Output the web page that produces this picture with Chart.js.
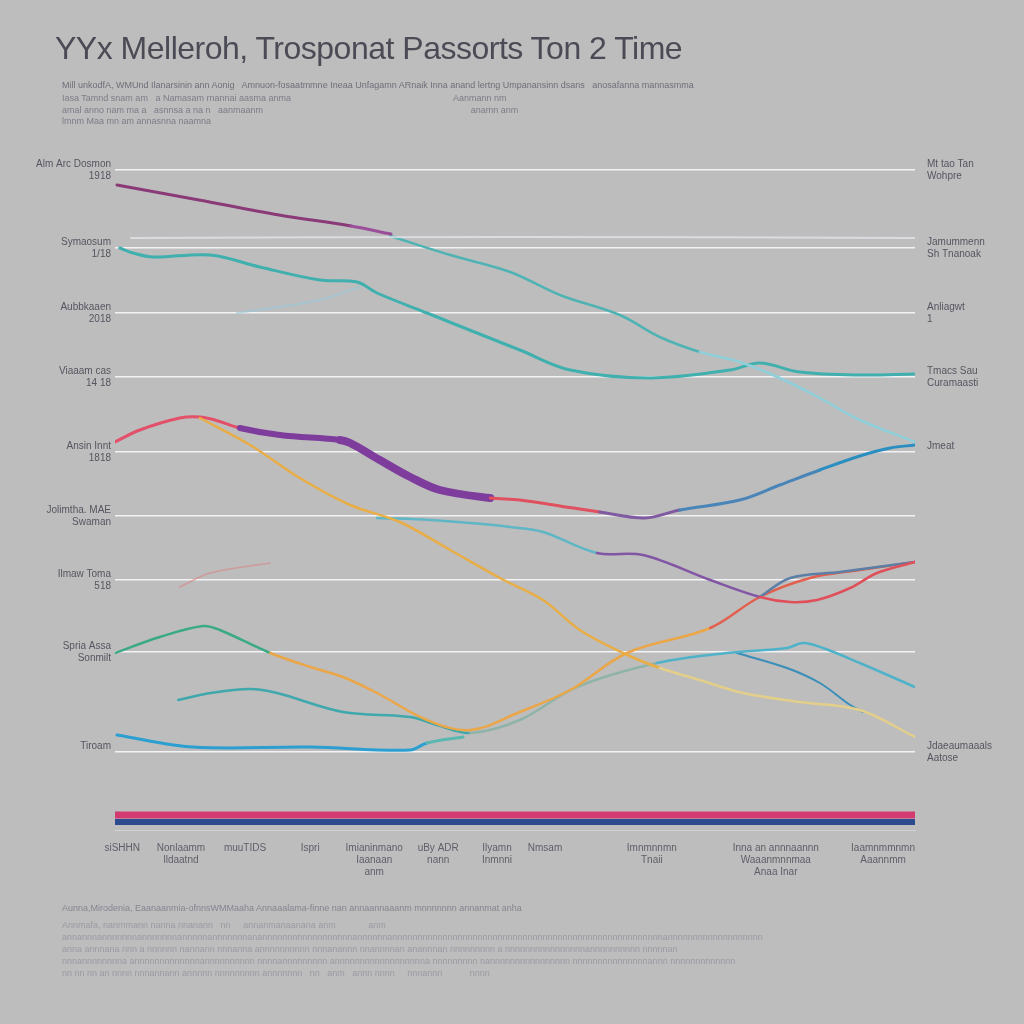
<!DOCTYPE html>
<html>
<head>
<meta charset="utf-8">
<script src="https://cdn.jsdelivr.net/npm/chart.js@4.4.1/dist/chart.umd.min.js"></script>
<style>
  html, body { margin: 0; padding: 0; background: #bdbdbe; }
  #wrap { position: relative; width: 1024px; height: 1024px; overflow: hidden; }
  canvas { position: absolute; left: 0; top: 0; }
  .title { position: absolute; left: 55px; top: 30px; font: 32px "Liberation Sans", Arial, sans-serif; color: #4b4b55; letter-spacing: -0.5px; }
  .sub { position: absolute; left: 62px; font: 9px "Liberation Sans Narrow", "Liberation Sans", sans-serif; color: #7c7c86; white-space: nowrap; }
  .foot { position: absolute; left: 62px; font: 9px "Liberation Sans Narrow", "Liberation Sans", sans-serif; color: #9a9aa2; white-space: nowrap; }
</style>
</head>
<body>
<div id="wrap">
  <canvas id="chart" width="1024" height="1024"></canvas>
  <div class="title">YYx Melleroh, Trosponat Passorts Ton 2 Time</div>
  <div class="sub" style="top:80px;color:#6e6e78">Mill unkodfA, WMUnd Ilanarsinin ann Aonig &nbsp; Amnuon-fosaatmmne Ineaa Unfagamn ARnaik Inna anand lertng Umpanansinn dsans &nbsp; anosafanna mannasmma</div>
  <div class="sub" style="top:93px">Iasa Tamnd snam am &nbsp; a Namasam rnannai aasma anma &nbsp; &nbsp; &nbsp; &nbsp; &nbsp; &nbsp; &nbsp; &nbsp; &nbsp; &nbsp; &nbsp; &nbsp; &nbsp; &nbsp; &nbsp; &nbsp; &nbsp; &nbsp; &nbsp; &nbsp; &nbsp; &nbsp; &nbsp; &nbsp; &nbsp; &nbsp; &nbsp; &nbsp; &nbsp; &nbsp; &nbsp; &nbsp; Aanmann nm</div>
  <div class="sub" style="top:105px">amal anno nam ma a &nbsp; asnnsa a na n &nbsp; aanmaanm &nbsp; &nbsp; &nbsp; &nbsp; &nbsp; &nbsp; &nbsp; &nbsp; &nbsp; &nbsp; &nbsp; &nbsp; &nbsp; &nbsp; &nbsp; &nbsp; &nbsp; &nbsp; &nbsp; &nbsp; &nbsp; &nbsp; &nbsp; &nbsp; &nbsp; &nbsp; &nbsp; &nbsp; &nbsp; &nbsp; &nbsp; &nbsp; &nbsp; &nbsp; &nbsp; &nbsp; &nbsp; &nbsp; &nbsp; &nbsp; &nbsp; anamn anm</div>
  <div class="sub" style="top:116px">lmnm Maa mn am annasnna naamna</div>
  <div class="foot" style="top:903px;color:#858590">Aunna,Mirodenia, Eaanaanmia-ofnnsWMMaaha Annaaalama-finne nan annaannaaanm mnnnnnnn annanmat anha</div>
  <div class="foot" style="top:920px">Annmafa, nanmmann nanna nnanann &nbsp; nn &nbsp; &nbsp; annanmanaanana anm &nbsp; &nbsp; &nbsp; &nbsp; &nbsp; &nbsp; anm</div>
  <div class="foot" style="top:932px">annannnannnnnnnannnnnnnannnnnannnnnnnanannnnnnnnnnnnnnnnnnannnnnnannnnnnnnnnnnnnnnnnnnnnnnnnnnnnnnnnnnnnnnnnnnnnnnnnnnnnannnnnnnnnnnnnnnnnnn</div>
  <div class="foot" style="top:944px">anna annnana nnn a nnnnnn nannann nnnanna annnnnnnnnn nnnanannn nnannnnan anannnan nnnnnnnnn a nnnnnnnnnnnnnnnnannnnnnnnnn nnnnnan</div>
  <div class="foot" style="top:956px">nnnannnnnnnna annnnnnnnnnnnnannnnnnnnnn nnnnannnnnnnnn annnnnnnnnnnnnnnnnna nnnnnnnnn nannnnnnnnnnnnnnnn nnnnnnnnnnnnnnnannn nnnnnnnnnnnnn</div>
  <div class="foot" style="top:968px">nn nn nn an nnnn nnnannann annnnn nnnnnnnnn annnnnnn &nbsp; nn &nbsp; anm &nbsp; annn nnnn &nbsp; &nbsp; nnnannn &nbsp; &nbsp; &nbsp; &nbsp; &nbsp; nnnn</div>
</div>
<script>
const gridVals = [66, 58.2, 51.7, 45.3, 37.8, 31.4, 25, 17.8, 7.8];
const leftLabels = [
  ['Alm Arc Dosmon', '1918'], ['Symaosum', '1/18'], ['Aubbkaaen', '2018'],
  ['Viaaam cas', '14 18'], ['Ansin Innt', '1818'], ['Jolimtha. MAE', 'Swaman'],
  ['Ilmaw Toma', '518'], ['Spria Assa', 'Sonmilt'], ['Tiroam', '']
];
const rightLabels = [
  ['Mt tao Tan', 'Wohpre'], ['Jamummenn', 'Sh Tnanoak'], ['Anliagwt', '1'],
  ['Tmacs Sau', 'Curamaasti'], ['Jmeat', ''], '', '', '', ['Jdaeaumaaals', 'Aatose']
];
const xTickVals = [0.9, 8.25, 16.25, 24.4, 32.4, 40.4, 47.75, 53.75, 67.1, 82.6, 96];
const xLabels = [
  'siSHHN', ['Nonlaamm', 'lldaatnd'], 'muuTIDS', 'Ispri', ['Imianinmano', 'Iaanaan', 'anm'],
  ['uBy ADR', 'nann'], ['Ilyamn', 'Inmnni'], 'Nmsam', ['Imnmnnmn', 'Tnaii'],
  ['Inna an annnaannn', 'Waaanmnnmaa', 'Anaa Inar'], ['Iaamnmmnmn', 'Aaannmm']
];

// series
const purpleX = [0.25, 10.5, 20.5, 29.5, 34.5];
const purpleY = [64.5, 63, 61.5, 60.4, 59.6];

const paleTealX = [34.4, 41.9, 49.4, 55.6, 63.1, 68.1, 73.1, 78.1, 83.1, 88.1, 93.1, 100];
const paleTealY = [59.4, 57.5, 55.8, 53.5, 51.5, 49.3, 47.8, 46.8, 45.2, 43.2, 41, 38.8];

const tealX = [0.6, 2.25, 4.75, 11.9, 18.1, 25.6, 30.25, 32.75, 39, 45.25, 50.6, 56.9, 66.9, 76.9, 80.6, 85.6, 93.1, 100];
const tealY = [58.2, 57.7, 57.3, 57.5, 56.3, 55, 54.8, 53.7, 51.7, 49.7, 48, 46, 45.2, 46, 46.7, 45.8, 45.5, 45.6];

const midX = [0, 3.1, 8.1, 10.6, 12.5, 15.6, 20.6, 28.1, 29.4, 33.1, 36.9, 40.6, 46.9, 50.6, 55.6, 60.6, 66.25, 70.6, 78.1, 83.1, 88.1, 93.1, 96.9, 100];
const midY = [38.8, 40, 41.2, 41.3, 41, 40.2, 39.5, 39, 38.7, 37, 35.3, 34, 33.2, 33, 32.4, 31.8, 31.2, 32, 33, 34.5, 36, 37.4, 38.2, 38.5];

const yellowX = [10.6, 16.9, 23.1, 29.4, 35.6, 41.9, 48.1, 53.5, 58.1, 63.5, 68.1, 73.1, 78.5, 85.6, 93.1, 100];
const yellowY = [41.2, 38.5, 35.2, 32.5, 30.8, 28, 25.2, 23, 20, 17.7, 16.2, 15, 13.7, 12.8, 12, 9.3];

const lowTealX = [32.75, 39.4, 44.4, 49.4, 53.5, 60.25, 66, 74.4, 80.6, 84.4, 87.75, 91.9, 95.25, 100];
const lowTealY = [31.2, 31, 30.7, 30.3, 29.8, 27.7, 27.5, 25, 23.3, 22.8, 23, 24.2, 25.7, 26.8];

const riseX = [80.6, 84.4, 90.6, 100];
const riseY = [23.3, 25.2, 25.8, 26.8];

const greenX = [0, 5.6, 11, 13.1, 19.4, 24.4, 28.5, 32.75, 39, 44.4, 50.6, 56.9, 64, 74.4, 80.6, 86.9, 93.1, 100];
const greenY = [17.7, 19.3, 20.4, 20, 17.7, 16.3, 15.3, 13.7, 11, 10, 11.8, 14, 17.7, 20.2, 23.3, 25.2, 26, 26.8];

const grayTealX = [7.9, 11.9, 16.9, 20.25, 28.5, 36.9, 40.25, 44.4, 50.6, 57.75, 67.75, 76.5, 84, 86, 88.5, 93.1, 100];
const grayTealY = [13, 13.7, 14.1, 13.7, 11.8, 11.3, 10.5, 9.7, 11, 14.3, 16.7, 17.7, 18.2, 18.7, 18.2, 16.7, 14.3];

const blueBranchX = [77.75, 84, 88.1, 91.9, 93.5];
const blueBranchY = [17.7, 16.2, 14.7, 12.5, 11.8];

const blueLowX = [0.25, 9.75, 24.4, 36.9, 39, 43.5];
const blueLowY = [9.5, 8.3, 8.3, 8, 8.7, 9.3];

const ghostBlueX = [15.25, 25.6, 30.6];
const ghostBlueY = [51.7, 53, 54.3];
const ghostRedX = [8.1, 11.9, 19.4];
const ghostRedY = [24.3, 25.7, 26.7];
const ghostBandX = [2, 50, 100];
const ghostBandY = [59.2, 59.3, 59.2];

const barX = [0, 100];
const magentaBarY = [1.5, 1.5];
const navyBarY = [0.8, 0.8];

function pts(xs, ys) {
  return xs.map((x, i) => ({ x: x, y: ys[i] }));
}

// colour by x position of segment start
function pick(breaks, colors) {
  return ctx => {
    const x = ctx.p0.parsed.x;
    let i = 0;
    while (i < breaks.length && x >= breaks[i]) i++;
    return colors[i];
  };
}

function line(data, color, width, extra) {
  return Object.assign({
    data: data,
    borderColor: color,
    borderWidth: width,
    pointRadius: 0,
    fill: false,
    tension: 0.35,
    borderCapStyle: 'round'
  }, extra || {});
}

const datasets = [
  line(pts(ghostBandX, ghostBandY), 'rgba(225,228,232,0.8)', 2),
  line(pts(ghostBlueX, ghostBlueY), 'rgba(150,200,215,0.6)', 2),
  line(pts(ghostRedX, ghostRedY), 'rgba(215,140,140,0.7)', 1.5),
  line(pts(purpleX, purpleY), '#8a3a7e', 3, {
    segment: { borderColor: pick([25], ['#8b3a78', '#9b4e9a']) }
  }),
  line(pts(paleTealX, paleTealY), '#6fc3c8', 2.5, {
    segment: { borderColor: pick([70], ['#4fb3b3', '#8fd0da']) }
  }),
  line(pts(tealX, tealY), '#3fb0ae', 3),
  line(pts(yellowX, yellowY), '#e8b04a', 2.5, {
    segment: { borderColor: pick([65], ['#e9ad45', '#e3cf8a']) }
  }),
  line(pts(lowTealX, lowTealY), '#5ab4bf', 2.5, {
    segment: { borderColor: pick([58, 78], ['#5fb6c4', '#8255a5', '#e0505a']) }
  }),
  line(pts(riseX, riseY), '#5d7fa6', 2.5),
  line(pts(greenX, greenY), '#3daa8a', 2.5, {
    segment: { borderColor: pick([19, 70], ['#3aaa86', '#eba648', '#e3604e']) }
  }),
  line(pts(grayTealX, grayTealY), '#4ab0b0', 2.5, {
    segment: { borderColor: pick([44, 60], ['#3fa8ac', '#8fb3a8', '#4fb2c8']) }
  }),
  line(pts(blueBranchX, blueBranchY), '#3a8fb8', 2),
  line(pts(blueLowX, blueLowY), '#2aa0cf', 3, {
    segment: { borderColor: pick([37], ['#2a9fd0', '#5ab8b0']) }
  }),
  line(pts(midX, midY), '#e04a64', 3, {
    segment: {
      borderColor: pick([14, 46, 60, 70, 88], ['#e2506a', '#7e3d9c', '#e0505e', '#7f5aa0', '#4a85b8', '#2a8fc0']),
      borderWidth: ctx => {
        const x = ctx.p0.parsed.x;
        return (x >= 28 && x < 44) ? 8 : (x >= 14 && x < 46 ? 6 : 3);
      }
    }
  }),
  line(pts(barX, magentaBarY), '#d43a72', 7, { tension: 0, borderCapStyle: 'butt' }),
  line(pts(barX, navyBarY), '#2c4a8e', 6, { tension: 0, borderCapStyle: 'butt' })
];

const tickFont = { family: '"Liberation Sans Narrow", "Liberation Sans", sans-serif', size: 10 };

new Chart(document.getElementById('chart'), {
  type: 'line',
  data: { datasets: datasets },
  options: {
    responsive: false,
    animation: false,
    layout: { padding: { top: 160, bottom: 0, left: 0, right: 0 } },
    plugins: { legend: { display: false }, tooltip: { enabled: false } },
    scales: {
      x: {
        type: 'linear', min: 0, max: 100,
        grid: { display: false },
        border: { color: '#d4d4d8', width: 1 },
        afterBuildTicks: s => { s.ticks = xTickVals.map(v => ({ value: v })); },
        afterFit: s => { s.height = 194; },
        ticks: {
          autoSkip: false, maxRotation: 0, padding: 4,
          color: '#5e5e68', font: tickFont,
          callback: (v, i) => xLabels[i]
        }
      },
      y: {
        position: 'left', min: 0, max: 67,
        afterBuildTicks: s => { s.ticks = gridVals.map(v => ({ value: v })); },
        afterFit: s => { s.width = 115; },
        grid: { color: '#f3f3f5', lineWidth: 1.5, drawTicks: false },
        border: { display: false },
        ticks: {
          padding: 4, color: '#55555f', font: tickFont,
          callback: (v, i) => leftLabels[i]
        }
      },
      y2: {
        position: 'right', min: 0, max: 67,
        afterBuildTicks: s => { s.ticks = gridVals.map(v => ({ value: v })); },
        afterFit: s => { s.width = 109; },
        grid: { display: false },
        border: { display: false },
        ticks: {
          padding: 4, color: '#55555f', font: tickFont,
          callback: (v, i) => rightLabels[i]
        }
      }
    }
  }
});
</script>
</body>
</html>
